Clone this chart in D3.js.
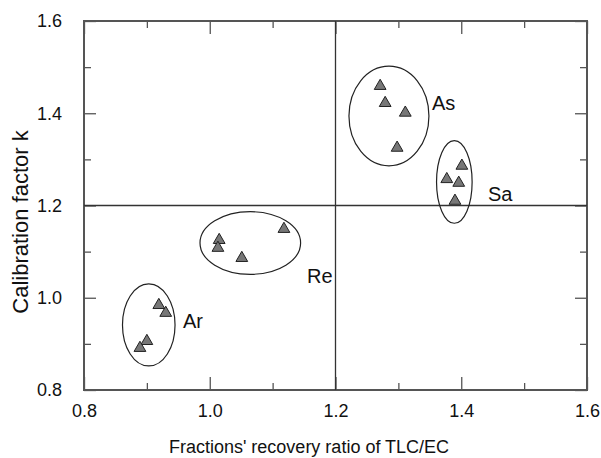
<!DOCTYPE html>
<html><head><meta charset="utf-8">
<script src="https://cdn.jsdelivr.net/npm/d3@7"></script>
<style>body{margin:0;background:#fff}svg{display:block}text{font-family:"Liberation Sans",Arial,sans-serif;fill:#111}</style>
</head><body><svg id="c" width="601" height="458"></svg>
<script>
// Data
const groups = ["As","Sa","Re","Ar"];
const xAs = [1.271,1.279,1.311,1.298];
const yAs = [1.459,1.422,1.401,1.325];
const xSa = [1.401,1.377,1.396,1.390];
const ySa = [1.286,1.257,1.249,1.210];
const xRe = [1.118,1.015,1.013,1.051];
const yRe = [1.149,1.125,1.108,1.086];
const xAr = [0.919,0.930,0.900,0.889];
const yAr = [0.984,0.967,0.906,0.891];
// Ellipses (center x, center y, radius x, radius y) in data units
const ellCx = [1.285,1.389,1.0645,0.903];
const ellCy = [1.394,1.251,1.1187,0.941];
const ellRx = [0.0636,0.0283,0.080,0.0418];
const ellRy = [0.108,0.0895,0.0679,0.0889];
// Group label anchor positions (left, baseline) in data units
const labX = [1.3535,1.4425,1.1547,0.9575];
const labY = [1.407,1.2098,1.032,0.9344];
const xTicks = [0.8,1.0,1.2,1.4,1.6];
const yTicks = [0.8,1.0,1.2,1.4,1.6];
const xMinor = [0.9,1.1,1.3,1.5];
const yMinor = [0.9,1.1,1.3,1.5];
const refX = 1.2, refY = 1.2;
const xTitle = "Fractions' recovery ratio of TLC/EC";
const yTitle = "Calibration factor k";

const L=84,R=587,T=21,B=390;
const svg = d3.select("#c");
const x = d3.scaleLinear().domain([0.8,1.6]).range([L,R]);
const y = d3.scaleLinear().domain([0.8,1.6]).range([B,T]);
const fmt = d3.format(".1f");
const axCol = "#555";

function styleAxis(g){ g.select(".domain").remove(); g.selectAll(".tick line").attr("stroke",axCol).attr("stroke-width",1.3); g.selectAll("text").style("font-size","18px").attr("fill","#111"); }

// bottom axis (inward ticks)
svg.append("g").attr("transform",`translate(0,${B})`)
  .call(d3.axisBottom(x).tickValues(xTicks).tickFormat(fmt).tickSizeInner(-13).tickSizeOuter(0).tickPadding(14))
  .call(styleAxis).call(g=>g.selectAll("text").attr("dy","0.71em"));
svg.append("g").attr("transform",`translate(0,${B})`)
  .call(d3.axisBottom(x).tickValues(xMinor).tickFormat("").tickSizeInner(-7).tickSizeOuter(0)).call(styleAxis);
// top
svg.append("g").attr("transform",`translate(0,${T})`)
  .call(d3.axisTop(x).tickValues(xTicks).tickFormat("").tickSizeInner(-13).tickSizeOuter(0)).call(styleAxis);
svg.append("g").attr("transform",`translate(0,${T})`)
  .call(d3.axisTop(x).tickValues(xMinor).tickFormat("").tickSizeInner(-7).tickSizeOuter(0)).call(styleAxis);
// left
svg.append("g").attr("transform",`translate(${L},0)`)
  .call(d3.axisLeft(y).tickValues(yTicks).tickFormat(fmt).tickSizeInner(-12).tickSizeOuter(0).tickPadding(22))
  .call(styleAxis);
svg.append("g").attr("transform",`translate(${L},0)`)
  .call(d3.axisLeft(y).tickValues(yMinor).tickFormat("").tickSizeInner(-7).tickSizeOuter(0)).call(styleAxis);
// right
svg.append("g").attr("transform",`translate(${R},0)`)
  .call(d3.axisRight(y).tickValues(yTicks).tickFormat("").tickSizeInner(-12).tickSizeOuter(0)).call(styleAxis);
svg.append("g").attr("transform",`translate(${R},0)`)
  .call(d3.axisRight(y).tickValues(yMinor).tickFormat("").tickSizeInner(-7).tickSizeOuter(0)).call(styleAxis);

// frame
svg.append("rect").attr("x",L).attr("y",T).attr("width",R-L).attr("height",B-T)
  .attr("fill","none").attr("stroke",axCol).attr("stroke-width",2);

// reference lines
svg.append("line").attr("x1",x(refX)).attr("x2",x(refX)).attr("y1",T).attr("y2",B).attr("stroke","#333").attr("stroke-width",1.3);
svg.append("line").attr("x1",L).attr("x2",R).attr("y1",y(refY)).attr("y2",y(refY)).attr("stroke","#333").attr("stroke-width",1.3);

// ellipses and labels
groups.forEach((gname,i)=>{
  svg.append("ellipse").attr("cx",x(ellCx[i])).attr("cy",y(ellCy[i]))
    .attr("rx",x(ellCx[i]+ellRx[i])-x(ellCx[i])).attr("ry",y(ellCy[i])-y(ellCy[i]+ellRy[i]))
    .attr("fill","none").attr("stroke","#222").attr("stroke-width",1.2);
  svg.append("text").attr("x",x(labX[i])).attr("y",y(labY[i])).style("font-size","20px").text(gname);
});

// points
const series = [[xAs,yAs],[xSa,ySa],[xRe,yRe],[xAr,yAr]];
const sym = d3.symbol().type(d3.symbolTriangle).size(60);
series.forEach(([xs,ys])=>{
  svg.append("g").selectAll("path").data(xs.map((v,i)=>[v,ys[i]])).join("path")
    .attr("d",sym).attr("transform",d=>`translate(${x(d[0])},${y(d[1])})`)
    .attr("fill","#777").attr("stroke","#222").attr("stroke-width",1);
});

// titles
svg.append("text").attr("x",309).attr("y",453).attr("text-anchor","middle").style("font-size","18px").text(xTitle);
svg.append("text").attr("transform",`translate(28,222) rotate(-90)`).attr("text-anchor","middle").style("font-size","22px").text(yTitle);
</script></body></html>
